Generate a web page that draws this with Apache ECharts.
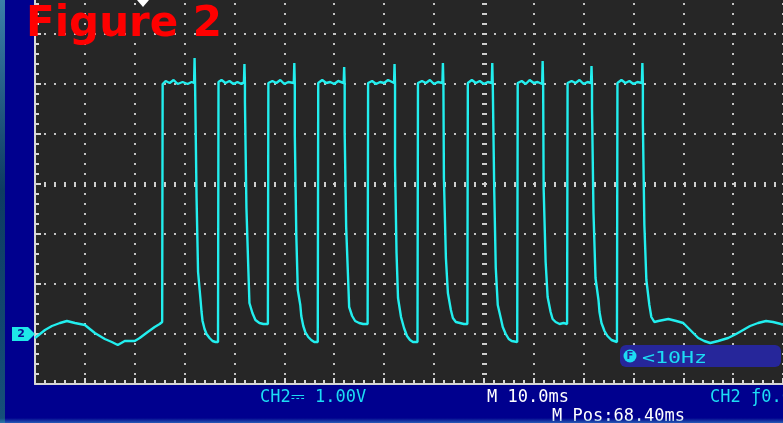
<!DOCTYPE html>
<html>
<head>
<meta charset="utf-8">
<script src="https://cdn.jsdelivr.net/npm/echarts@6/dist/echarts.min.js"></script>
<style>
html,body{margin:0;padding:0;width:783px;height:423px;overflow:hidden;background:#00008e;position:relative;}
#c{width:783px;height:439px;position:absolute;left:0;top:-16px;}
#edgeL{position:absolute;left:0;top:0;width:5px;height:423px;background:linear-gradient(#3b7fa8,#0d3c62 45%,#15507a);}
#edgeB{position:absolute;left:0;bottom:0;width:783px;height:5px;background:linear-gradient(rgba(0,0,142,0),rgba(60,140,200,0.65));}
</style>
</head>
<body>
<div id="c"></div><div id="edgeL"></div><div id="edgeB"></div>
<script>
// CH2 trace: time in ms (10 ms/div), voltage in V (1.00 V/div)
const leadIn = [[0,-0.08],[1,0.00],[2,0.08],[3.4,0.16],[5,0.22],[6.4,0.26],[8,0.22],[10,0.18],[11,0.10],[12,0.02],[14,-0.10],[15.4,-0.16],[16.6,-0.22],[18,-0.14],[20,-0.14],[21,-0.08],[22.6,0.04],[24,0.14],[25,0.20],[25.5,0.24]];
const pulse1 = [[25.6,5.00],[26.2,5.06],[27.0,5.02],[27.8,5.08],[28.6,5.00],[29.6,5.04],[30.6,5.00],[31.4,5.04],[31.9,5.02],[32.0,5.52],[32.1,5.00],[32.4,4.98],[32.4,2.72],[32.7,2.70],[32.7,1.24],[33.0,1.22],[33.2,0.68],[33.4,0.44],[33.6,0.26],[34.0,0.10],[34.4,0.00],[35.0,-0.08],[35.6,-0.14],[36.2,-0.16],[36.7,-0.16]];
const pulse2 = [[36.8,-0.16],[36.8,5.04],[37.4,5.08],[38.2,5.02],[39.0,5.06],[39.8,5.00],[40.6,5.04],[41.4,5.00],[41.9,5.04],[42.0,5.40],[42.1,5.00],[42.1,4.64],[42.4,4.62],[42.4,2.52],[42.8,2.50],[42.8,1.24],[43.0,1.22],[43.0,0.62],[43.4,0.60],[43.6,0.42],[44.2,0.28],[45.0,0.22],[45.8,0.20],[46.7,0.20]];
const pulse3 = [[46.8,0.20],[46.8,5.02],[47.6,5.06],[48.4,5.02],[49.2,5.08],[50.0,5.00],[50.8,5.04],[51.9,5.02],[52.0,5.42],[52.1,5.00],[52.1,3.98],[52.4,3.96],[52.4,1.98],[52.7,1.96],[52.7,0.88],[53.0,0.86],[53.2,0.58],[53.4,0.36],[53.8,0.16],[54.2,0.04],[54.8,-0.06],[55.4,-0.12],[56.0,-0.16],[56.7,-0.16]];
const pulse4 = [[56.8,-0.16],[56.8,5.02],[57.6,5.08],[58.4,5.02],[59.2,5.04],[60.0,5.00],[60.8,5.06],[61.9,5.02],[62.0,5.34],[62.1,5.00],[62.1,4.02],[62.4,4.00],[62.4,2.14],[62.8,2.12],[62.8,1.08],[63.0,1.06],[63.0,0.54],[63.4,0.52],[63.6,0.36],[64.2,0.26],[65.0,0.22],[65.8,0.20],[66.7,0.20]];
const pulse5 = [[66.8,0.20],[66.8,5.02],[67.6,5.06],[68.4,5.00],[69.2,5.04],[70.0,5.02],[70.8,5.08],[72.0,5.02],[72.1,5.40],[72.2,5.00],[72.2,3.38],[72.5,3.36],[72.5,1.62],[72.8,1.60],[72.8,0.72],[73.0,0.70],[73.4,0.34],[74.0,0.12],[74.6,-0.04],[75.2,-0.12],[75.8,-0.16],[76.7,-0.16]];
const pulse6 = [[76.8,-0.16],[76.8,5.02],[77.6,5.06],[78.4,5.02],[79.2,5.08],[80.0,5.00],[80.8,5.04],[81.7,5.02],[81.8,5.42],[81.9,5.00],[82.0,3.12],[82.4,3.10],[82.4,1.52],[82.8,1.50],[82.8,0.82],[83.2,0.80],[83.4,0.48],[83.8,0.32],[84.4,0.24],[85.2,0.22],[86.0,0.20],[86.7,0.20]];
const pulse7 = [[86.8,0.20],[86.8,5.02],[87.6,5.08],[88.4,5.02],[89.2,5.06],[90.0,5.00],[90.8,5.04],[91.6,5.02],[91.7,5.42],[91.8,4.98],[92.1,4.98],[92.1,2.84],[92.4,2.82],[92.4,1.32],[92.8,1.30],[92.8,0.58],[93.2,0.56],[93.4,0.32],[93.8,0.14],[94.4,0.00],[95.0,-0.10],[95.6,-0.14],[96.7,-0.16]];
const pulse8 = [[96.8,-0.16],[96.8,5.02],[97.6,5.06],[98.4,5.00],[99.2,5.08],[100.0,5.02],[100.8,5.04],[101.7,5.00],[101.8,5.46],[101.9,5.00],[102.0,2.92],[102.4,2.90],[102.4,1.44],[102.8,1.42],[102.8,0.74],[103.1,0.72],[103.4,0.44],[103.8,0.30],[104.4,0.24],[105.2,0.20],[106.0,0.22],[106.7,0.20]];
const pulse9 = [[106.8,0.20],[106.8,5.02],[107.6,5.06],[108.4,5.02],[109.2,5.08],[110.0,5.00],[110.8,5.04],[111.5,5.02],[111.6,5.36],[111.7,5.00],[111.7,4.52],[112.0,4.50],[112.0,2.42],[112.4,2.40],[112.4,1.12],[112.8,1.10],[113.0,0.68],[113.2,0.44],[113.6,0.22],[114.2,0.06],[114.8,-0.04],[115.6,-0.12],[116.7,-0.16]];
const pulse10 = [[116.8,-0.16],[116.8,5.02],[117.6,5.08],[118.4,5.02],[119.2,5.06],[120.0,5.00],[120.8,5.04],[121.7,5.02],[121.8,5.42],[121.9,5.00],[121.9,4.22],[122.2,4.20],[122.2,2.18],[122.6,2.16],[122.6,1.08],[122.9,1.06],[123.2,0.58],[123.6,0.34]];
const tail = [[124.2,0.24],[125.0,0.26],[126.0,0.28],[127.0,0.30],[128.6,0.26],[130.0,0.22],[131.0,0.12],[132.0,0.02],[133.0,-0.08],[134.2,-0.14],[135.4,-0.18],[137.0,-0.14],[139.0,-0.08],[140.6,0.00],[142.0,0.08],[143.4,0.16],[145.0,0.22],[146.6,0.26],[148.0,0.24],[149.6,0.20],[150.0,0.18]];

const timeRange = [0, 150];     // ms, 10 ms/div
const voltRange = [-1, 7];      // V, 1 V/div
const centerTime = 90;          // ms (centre graticule column)
const centerVolt = 3;           // V (centre graticule row)

const trace = [].concat(leadIn, pulse1, pulse2, pulse3, pulse4, pulse5, pulse6, pulse7, pulse8, pulse9, pulse10, tail);

const chart = echarts.init(document.getElementById('c'), null, {renderer: 'canvas'});
const frame = '#d6d6d6';
const cyanText = '#1cdcf4';
const mono = '"DejaVu Sans Mono", "Liberation Mono", monospace';
const OY = 16; // container is shifted up by 16px

function axisCommon(min, max, step) {
  return {
    type: 'value', min: min, max: max, interval: step,
    axisLine: {show: true, onZero: false, lineStyle: {color: frame, width: 2}},
    axisTick: {show: true, inside: true, length: 6, lineStyle: {color: frame, width: 2}},
    minorTick: {show: true, splitNumber: 5, length: 4, lineStyle: {color: frame, width: 2}},
    axisLabel: {show: false},
    splitLine: {show: true, lineStyle: {color: '#c4c4c4', width: 2, type: [2, 8], dashOffset: 1}},
    minorSplitLine: {show: false}
  };
}

chart.setOption({
  animation: false,
  backgroundColor: 'transparent',
  grid: {left: 35, top: 0, width: 750, height: 400, show: true, backgroundColor: '#262626', borderWidth: 0, containLabel: false},
  xAxis: axisCommon(timeRange[0], timeRange[1], 10),
  yAxis: axisCommon(voltRange[0], voltRange[1], 1),
  series: [
    {
      type: 'line', data: [], z: 1, silent: true,
      markLine: {
        silent: true, symbol: 'none', animation: false, label: {show: false},
        data: [
          {yAxis: centerVolt, lineStyle: {color: '#cfcfcf', width: 5, type: [2, 8], dashOffset: 1}},
          {xAxis: centerTime, lineStyle: {color: '#cfcfcf', width: 5, type: [2, 8], dashOffset: 1}}
        ]
      }
    },
    {
      type: 'line', data: trace, z: 5, showSymbol: false, symbol: 'none', silent: true,
      lineStyle: {color: '#22eeee', width: 2.4}
    }
  ]
});

const gy = chart.convertToPixel({yAxisIndex: 0}, 0);

chart.setOption({
  graphic: [
    {type: 'polygon', z: 100, shape: {points: [[137, OY], [143, OY - 6], [149, OY], [143, OY + 7]]}, style: {fill: '#ffffff'}},
    {type: 'text', z: 101, x: 26, y: OY + 25, style: {text: 'Figure 2', fill: '#ff0000', font: 'bold 42px "DejaVu Sans"', verticalAlign: 'middle'}},
    {type: 'polygon', z: 100, shape: {points: [[12, gy - 7], [28, gy - 7], [35, gy], [28, gy + 7], [12, gy + 7]]}, style: {fill: '#1ee8e8'}},
    {type: 'text', z: 101, x: 21, y: gy, style: {text: '2', fill: '#0a0a90', font: 'bold 11px "DejaVu Sans"', align: 'center', verticalAlign: 'middle'}},
    {type: 'rect', z: 100, shape: {x: 620, y: OY + 345, width: 161, height: 22, r: 6}, style: {fill: '#26269a'}},
    {type: 'circle', z: 101, shape: {cx: 630, cy: OY + 356, r: 6.5}, style: {fill: cyanText}},
    {type: 'text', z: 102, x: 630, y: OY + 356.5, style: {text: 'F', fill: '#26269a', font: 'bold 10px "DejaVu Sans"', align: 'center', verticalAlign: 'middle'}},
    {type: 'text', z: 101, x: 642, y: OY + 359, scaleX: 1.35, style: {text: '<10Hz', fill: cyanText, font: '16px ' + mono, verticalAlign: 'middle'}},
    {type: 'text', z: 100, x: 260, y: OY + 397.5, style: {text: 'CH2\u2393 1.00V', fill: cyanText, font: '17px ' + mono, verticalAlign: 'middle'}},
    {type: 'text', z: 100, x: 487, y: OY + 397.5, style: {text: 'M 10.0ms', fill: '#ffffff', font: '17px ' + mono, verticalAlign: 'middle'}},
    {type: 'text', z: 100, x: 552, y: OY + 416.5, style: {text: 'M Pos:68.40ms', fill: '#ffffff', font: '17px ' + mono, verticalAlign: 'middle'}},
    {type: 'text', z: 100, x: 710, y: OY + 397.5, style: {text: 'CH2 \u01920.00V', fill: cyanText, font: '17px ' + mono, verticalAlign: 'middle'}}
  ]
});
</script>
</body>
</html>
